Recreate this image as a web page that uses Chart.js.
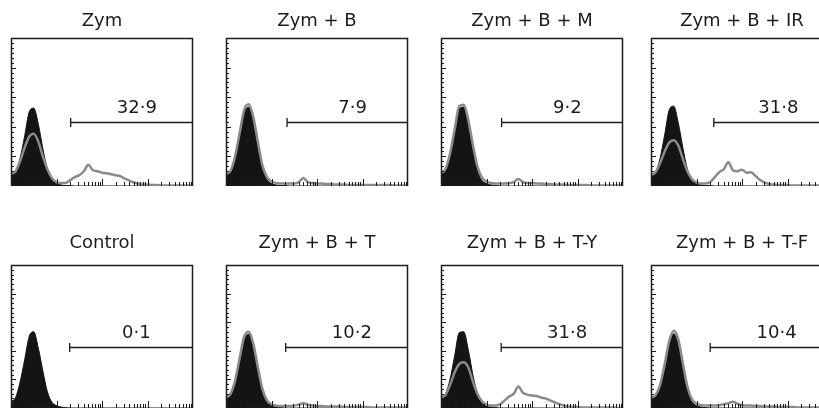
<!DOCTYPE html>
<html lang="en">
<head>
<meta charset="UTF-8">
<title>Zymosan flow cytometry histograms</title>
<script src="https://cdn.jsdelivr.net/npm/chart.js@4.4.1/dist/chart.umd.min.js"></script>
<style>
    html, body { margin: 0; padding: 0; background: #fff; }
    body { width: 819px; height: 410px; position: relative; overflow: hidden; }
    canvas { position: absolute; }
</style>
</head>
<body>
<script>
// fluorescence channel, log scale 10^0 .. 10^4, one bin every 0.1 decade
const channels = [1, 1.26, 1.58, 2, 2.51, 3.16, 3.98, 5.01, 6.31, 7.94,
    10, 12.6, 15.8, 20, 25.1, 31.6, 39.8, 50.1, 63.1, 79.4,
    100, 126, 158, 200, 251, 316, 398, 501, 631, 794,
    1000, 1259, 1585, 1995, 2512, 3162, 3981, 5012, 6310, 7943, 10000];

const titles = ['Zym', 'Zym + B', 'Zym + B + M', 'Zym + B + IR',
    'Control', 'Zym + B + T', 'Zym + B + T-Y', 'Zym + B + T-F'];
const gateLabels = ['32·9', '7·9', '9·2', '31·8', '0·1', '10·2', '31·8', '10·4'];
const gateStart = [20.5, 22, 21.5, 24, 19.5, 20.5, 21, 20];
const gateLevel = 129;
const yMax = 300;

// filled = black histogram, outline = grey histogram (counts per bin)
const zymFilled = [26,30,56,102,150,158,126,76,34,12, 5,2,1,1,0,0,0,0,0,0, 0,0,0,0,0,0,0,0,0,0, 0,0,0,0,0,0,0,0,0,0,0];
const zymOutline = [24,30,50,78,100,106,90,60,34,16, 8,6,6,12,18,22,30,43,32,30, 27,26,24,22,20,15,11,7,5,3, 3,2,2,1,1,1,1,1,1,1,1];

const zymBFilled = [22,28,54,100,148,160,130,80,36,13, 5,2,1,1,0,0,0,0,0,0, 0,0,0,0,0,0,0,0,0,0, 0,0,0,0,0,0,0,0,0,0,0];
const zymBOutline = [24,31,60,108,155,166,140,90,42,18, 9,6,5,5,5,5,8,16,8,6, 5,5,4,4,3,3,3,2,2,2, 2,2,2,2,2,2,2,1,1,1,1];

const zymBMFilled = [24,32,60,108,156,160,124,74,32,11, 5,2,1,0,0,0,0,0,0,0, 0,0,0,0,0,0,0,0,0,0, 0,0,0,0,0,0,0,0,0,0,0];
const zymBMOutline = [26,35,66,115,162,165,134,84,40,17, 9,6,5,5,5,6,8,14,8,6, 6,5,5,4,4,3,3,3,2,2, 2,2,2,1,1,1,1,1,1,1,1];

const zymBIRFilled = [20,28,56,104,154,162,128,78,34,12, 5,2,1,1,0,0,0,0,0,0, 0,0,0,0,0,0,0,0,0,0, 0,0,0,0,0,0,0,0,0,0,0];
const zymBIROutline = [22,28,46,70,88,93,82,55,30,14, 7,5,5,8,18,28,34,48,32,30, 33,27,28,20,12,7,4,3,2,2, 2,1,1,1,1,1,1,1,1,1,1];

const controlFilled = [13,22,54,102,150,160,126,78,34,12, 5,2,1,0,0,0,0,0,0,0, 0,0,0,0,0,0,0,0,0,0, 0,0,0,0,0,0,0,0,0,0,0];
const controlOutline = null;

const zymBTFilled = [20,27,52,98,142,155,126,76,34,12, 5,2,1,0,0,0,0,0,0,0, 0,0,0,0,0,0,0,0,0,0, 0,0,0,0,0,0,0,0,0,0,0];
const zymBTOutline = [22,30,57,105,150,160,135,86,40,16, 8,5,4,4,4,5,7,10,7,5, 4,4,3,3,3,3,2,2,2,2, 2,2,1,1,1,1,1,1,1,1,1];

const zymBTYFilled = [22,30,60,110,158,160,122,70,30,11, 4,2,1,0,0,0,0,0,0,0, 0,0,0,0,0,0,0,0,0,0, 0,0,0,0,0,0,0,0,0,0,0];
const zymBTYOutline = [22,28,48,75,92,96,85,56,30,14, 7,5,5,8,16,24,30,45,32,28, 26,25,22,20,16,12,8,5,3,2, 2,1,1,1,1,1,1,1,1,0,0];

const zymBTFFilled = [18,24,44,84,130,156,134,84,38,13, 5,2,1,0,0,0,0,0,0,0, 0,0,0,0,0,0,0,0,0,0, 0,0,0,0,0,0,0,0,0,0,0];
const zymBTFOutline = [20,27,48,92,140,162,144,94,45,18, 9,6,5,5,5,6,8,10,13,9, 6,5,5,4,4,3,3,3,2,2, 2,2,1,1,1,1,1,1,1,1,1];

const filledSeries = [zymFilled, zymBFilled, zymBMFilled, zymBIRFilled,
    controlFilled, zymBTFilled, zymBTYFilled, zymBTFFilled];
const outlineSeries = [zymOutline, zymBOutline, zymBMOutline, zymBIROutline,
    controlOutline, zymBTOutline, zymBTYOutline, zymBTFOutline];

// layout
const panelLefts = [11, 226, 441, 651];
const rows = [
    { top: 0, height: 190, padBottom: 4, titleGap: 5.5 },
    { top: 222, height: 188, padBottom: 2, titleGap: 10.4 }
];
const FONT = '"DejaVu Sans", "Liberation Sans", sans-serif';
const INK = '#1c1c1c';

const panelFrame = {
    id: 'panelFrame',
    afterDatasetsDraw(chart, args, opts) {
        const { ctx, chartArea: a } = chart;
        const x = chart.scales.x, y = chart.scales.y;
        ctx.save();
        ctx.strokeStyle = INK;
        ctx.lineWidth = 1;

        // count axis ticks (inside, left edge)
        for (let v = 10; v < yMax; v += 10) {
            const py = Math.round(y.getPixelForValue(v)) + 0.5;
            const len = v % 60 === 0 ? 5 : 3;
            ctx.beginPath();
            ctx.moveTo(a.left, py);
            ctx.lineTo(a.left + len, py);
            ctx.stroke();
        }

        // log ticks along the bottom
        for (const dec of [1, 10, 100, 1000]) {
            for (let m = 2; m <= 10; m++) {
                const v = dec * m;
                if (v >= 10000) continue;
                const px = Math.round(x.getPixelForValue(v)) + 0.5;
                const len = m === 10 ? 7 : 4;
                ctx.beginPath();
                ctx.moveTo(px, a.bottom);
                ctx.lineTo(px, a.bottom - len);
                ctx.stroke();
            }
        }

        // frame: left, top, right
        ctx.lineWidth = 1.5;
        ctx.beginPath();
        ctx.moveTo(a.left + 0.5, a.bottom);
        ctx.lineTo(a.left + 0.5, a.top + 0.5);
        ctx.lineTo(a.right - 0.5, a.top + 0.5);
        ctx.lineTo(a.right - 0.5, a.bottom);
        ctx.stroke();

        // gate marker
        const gx = x.getPixelForValue(opts.start);
        const gy = Math.round(y.getPixelForValue(gateLevel)) + 0.5;
        ctx.lineWidth = 1.3;
        ctx.beginPath();
        ctx.moveTo(gx, gy);
        ctx.lineTo(a.right, gy);
        ctx.moveTo(gx, gy - 4.5);
        ctx.lineTo(gx, gy + 4.5);
        ctx.stroke();

        ctx.fillStyle = INK;
        ctx.font = '18px ' + FONT;
        ctx.textAlign = 'center';
        ctx.textBaseline = 'alphabetic';
        ctx.fillText(opts.label, (gx + a.right) / 2 + 5, gy - 10);
        ctx.restore();
    }
};

titles.forEach((title, i) => {
    const row = rows[Math.floor(i / 4)];
    const canvas = document.createElement('canvas');
    canvas.width = 190;
    canvas.height = row.height;
    canvas.style.left = (panelLefts[i % 4] - 4) + 'px';
    canvas.style.top = row.top + 'px';
    document.body.appendChild(canvas);

    // black histogram underneath (order 1), grey line drawn over it
    const datasets = [{
        data: channels.map((c, k) => ({ x: c, y: filledSeries[i][k] })),
        order: 1,
        fill: 'origin',
        backgroundColor: '#141414',
        borderColor: '#141414',
        borderWidth: 1,
        pointRadius: 0,
        cubicInterpolationMode: 'monotone'
    }];
    if (outlineSeries[i]) {
        datasets.push({
            data: channels.map((c, k) => ({ x: c, y: outlineSeries[i][k] })),
            order: 0,
            fill: false,
            borderColor: '#8a8a8a',
            borderWidth: 2.5,
            pointRadius: 0,
            cubicInterpolationMode: 'monotone'
        });
    }

    new Chart(canvas, {
        type: 'line',
        data: { datasets },
        options: {
            responsive: false,
            animation: false,
            devicePixelRatio: 1,
            layout: { padding: { left: 4, right: 4, top: 0, bottom: row.padBottom } },
            plugins: {
                legend: { display: false },
                tooltip: { enabled: false },
                title: {
                    display: true,
                    text: title,
                    color: INK,
                    font: { family: FONT, size: 18, weight: 'normal' },
                    padding: { top: 11, bottom: row.titleGap }
                },
                panelFrame: { start: gateStart[i], label: gateLabels[i] }
            },
            scales: {
                x: { type: 'logarithmic', min: 1, max: 10000, display: false },
                y: { min: 0, max: yMax, display: false }
            }
        },
        plugins: [panelFrame]
    });
});
</script>
</body>
</html>
